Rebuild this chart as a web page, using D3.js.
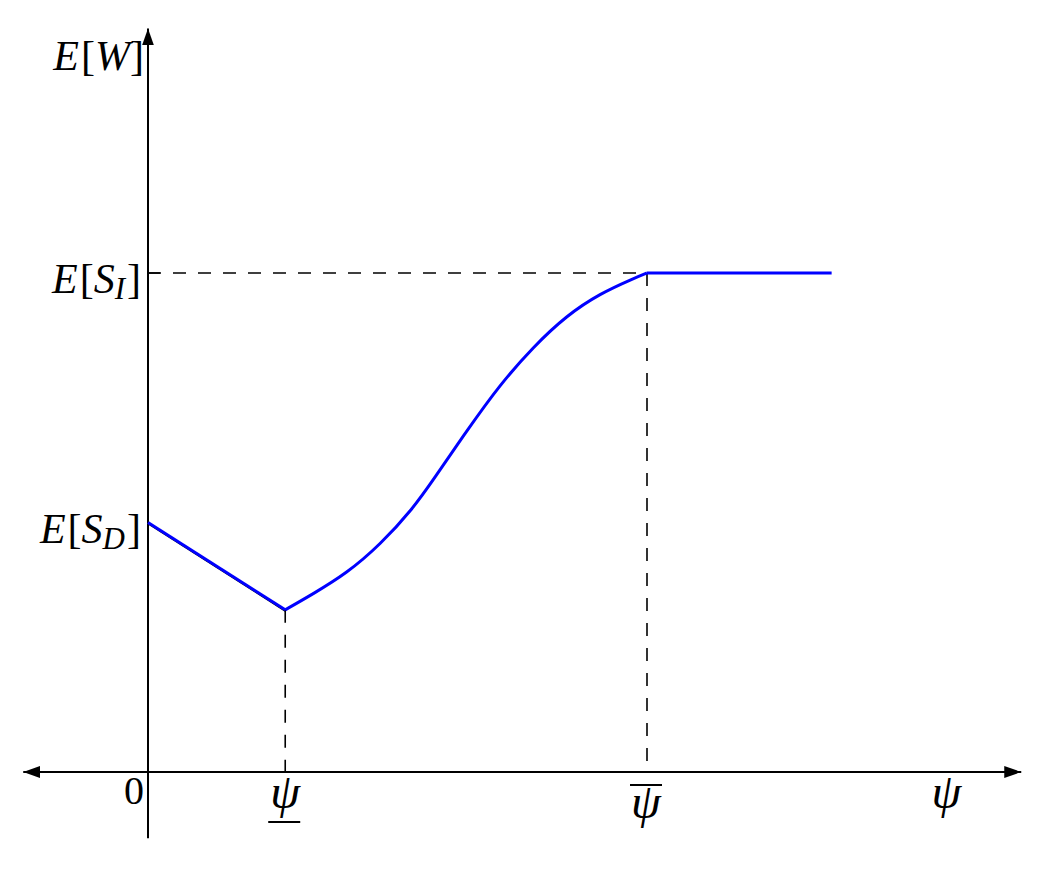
<!DOCTYPE html>
<html>
<head>
<meta charset="utf-8">
<script src="https://cdn.jsdelivr.net/npm/d3@7"></script>
<style>
  body { margin: 0; background: #fff; }
  svg text { font-family: "Liberation Serif", "DejaVu Serif", serif; fill: #000; }
</style>
</head>
<body>
<div id="chart"></div>
<script>
// Chart values (psi on x, E[W] on y; E[S_I] = 1, psi-bar = 1)
const psiLow = 0.275;
const psiHigh = 1.0;
const psiEnd = 1.37;

// falling straight part from E[S_D] down to the kink at psi-low
const declineX = [0, 0.275];
const declineY = [0.5, 0.325];

// S shaped rise between psi-low and psi-bar
const riseX = [0.275, 0.331, 0.398, 0.465, 0.532, 0.572, 0.639, 0.705, 0.772, 0.839, 0.906, 0.973, 1.0];
const riseY = [0.325, 0.357, 0.398, 0.455, 0.529, 0.586, 0.684, 0.776, 0.852, 0.915, 0.959, 0.989, 1.0];

// flat part after psi-bar
const flatX = [1.0, 1.37];
const flatY = [1.0, 1.0];

// axis extents
const xAxisRange = [-0.25, 1.75];
const yAxisRange = [-0.133, 1.49];

// labels on the y axis
const yTickValues = [1.0, 0.5];
const yTickSubs = ["I", "D"];

const width = 1038;
const height = 871;

const svg = d3.select("#chart")
    .append("svg")
    .attr("width", width)
    .attr("height", height);

const x = d3.scaleLinear().domain([0, 1]).range([148, 647]);
const y = d3.scaleLinear().domain([0, 1]).range([772, 273]);

// arrow head marker
svg.append("defs").append("marker")
    .attr("id", "arrow")
    .attr("viewBox", "0 -6 17 12")
    .attr("refX", 17)
    .attr("refY", 0)
    .attr("markerUnits", "userSpaceOnUse")
    .attr("markerWidth", 17)
    .attr("markerHeight", 12)
    .attr("orient", "auto-start-reverse")
    .append("path")
    .attr("d", "M0,-6L17,0L0,6Z")
    .attr("fill", "#000");

// Dashed guide lines
const guides = svg.append("g")
    .attr("stroke", "#000")
    .attr("stroke-width", 1.6)
    .attr("stroke-dasharray", "13,12");

guides.append("line")
    .attr("x1", x(0)).attr("y1", y(yTickValues[0]))
    .attr("x2", x(psiHigh)).attr("y2", y(yTickValues[0]));

guides.append("line")
    .attr("x1", x(psiHigh)).attr("y1", y(1.0))
    .attr("x2", x(psiHigh)).attr("y2", y(0));

guides.append("line")
    .attr("x1", x(psiLow)).attr("y1", y(declineY[1]))
    .attr("x2", x(psiLow)).attr("y2", y(0));

// Axes
svg.append("line")
    .attr("x1", x(xAxisRange[0])).attr("y1", y(0))
    .attr("x2", x(xAxisRange[1])).attr("y2", y(0))
    .attr("stroke", "#000")
    .attr("stroke-width", 2)
    .attr("marker-start", "url(#arrow)")
    .attr("marker-end", "url(#arrow)");

svg.append("line")
    .attr("x1", x(0)).attr("y1", y(yAxisRange[0]))
    .attr("x2", x(0)).attr("y2", y(yAxisRange[1]))
    .attr("stroke", "#000")
    .attr("stroke-width", 2)
    .attr("marker-end", "url(#arrow)");

// small tick where the E[S_I] guide meets the axis
svg.append("line")
    .attr("x1", x(0)).attr("y1", y(yTickValues[0]))
    .attr("x2", x(0) + 12).attr("y2", y(yTickValues[0]))
    .attr("stroke", "#000")
    .attr("stroke-width", 1.6);

// The curve
const lineLinear = d3.line()
    .x(d => x(d[0]))
    .y(d => y(d[1]));
const lineSmooth = d3.line()
    .x(d => x(d[0]))
    .y(d => y(d[1]))
    .curve(d3.curveBasis);

const decline = d3.zip(declineX, declineY);
const rise = d3.zip(riseX, riseY);
const flat = d3.zip(flatX, flatY);

// thin black line showing beneath the falling part
svg.append("path")
    .attr("d", lineLinear(decline))
    .attr("transform", "translate(0,1.2)")
    .attr("fill", "none")
    .attr("stroke", "#000")
    .attr("stroke-width", 1.5);

[lineLinear(decline), lineSmooth(rise), lineLinear(flat)].forEach(d => {
    svg.append("path")
        .attr("d", d)
        .attr("fill", "none")
        .attr("stroke", "#0000ff")
        .attr("stroke-width", 3)
        .attr("stroke-linejoin", "miter");
});

// Y labels: E[W], E[S_I], E[S_D]
function mathLabel(tx, ty, sub, main) {
    const t = svg.append("text")
        .attr("x", tx)
        .attr("y", ty)
        .attr("text-anchor", "end")
        .attr("font-size", 42);
    t.append("tspan").attr("font-style", "italic").text("E");
    t.append("tspan").attr("dx", 2).text("[");
    t.append("tspan").attr("font-style", "italic").text(main);
    if (sub) {
        t.append("tspan").attr("font-style", "italic").attr("font-size", 31).attr("dy", 6).text(sub);
        t.append("tspan").attr("dx", 2).attr("dy", -6).text("]");
    } else {
        t.append("tspan").text("]");
    }
    return t;
}

mathLabel(x(0) - 4, y(yAxisRange[1]) + 42, null, "W");
yTickValues.forEach((v, i) => {
    mathLabel(x(0) - 7, y(v) + 20, yTickSubs[i], "S");
});

// X labels
svg.append("text")
    .attr("x", x(0) - 4)
    .attr("y", y(0) + 32)
    .attr("text-anchor", "end")
    .attr("font-size", 40)
    .text("0");

const psiSize = 48;

svg.append("text")
    .attr("x", x(psiLow))
    .attr("y", y(0) + 36)
    .attr("text-anchor", "middle")
    .attr("font-size", psiSize)
    .attr("font-style", "italic")
    .text("ψ");
svg.append("line")
    .attr("x1", x(psiLow) - 17).attr("y1", y(0) + 50)
    .attr("x2", x(psiLow) + 15).attr("y2", y(0) + 50)
    .attr("stroke", "#000").attr("stroke-width", 2);

svg.append("text")
    .attr("x", x(psiHigh) - 1)
    .attr("y", y(0) + 46)
    .attr("text-anchor", "middle")
    .attr("font-size", psiSize)
    .attr("font-style", "italic")
    .text("ψ");
svg.append("line")
    .attr("x1", x(psiHigh) - 17).attr("y1", y(0) + 13)
    .attr("x2", x(psiHigh) + 15).attr("y2", y(0) + 13)
    .attr("stroke", "#000").attr("stroke-width", 2);

svg.append("text")
    .attr("x", x(1.6))
    .attr("y", y(0) + 36)
    .attr("text-anchor", "middle")
    .attr("font-size", psiSize)
    .attr("font-style", "italic")
    .text("ψ");
</script>
</body>
</html>
